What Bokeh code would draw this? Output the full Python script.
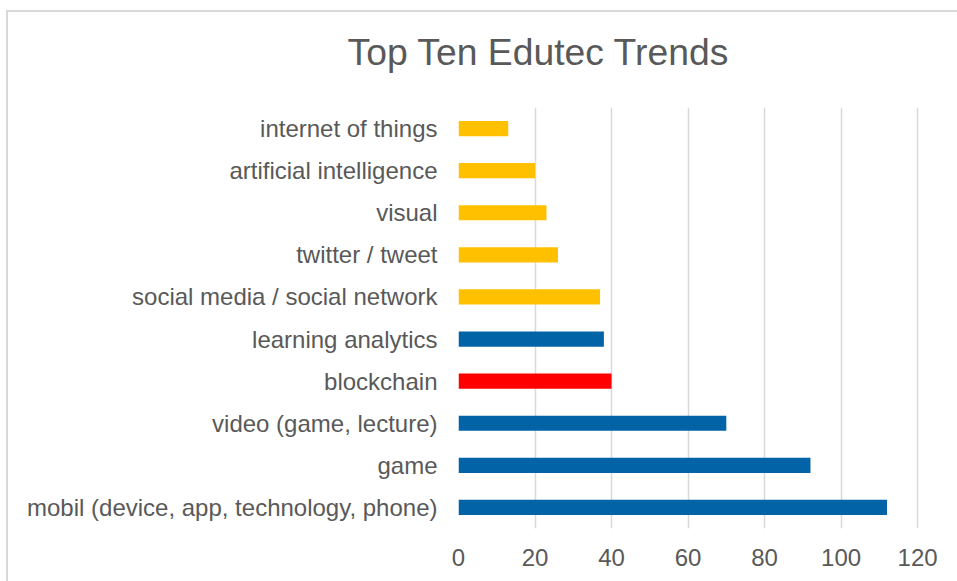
from bokeh.plotting import figure
from bokeh.models import FactorRange, ColumnDataSource, FixedTicker, Title
from bokeh.embed import file_html
from bokeh.resources import INLINE

categories = [
    "mobil (device, app, technology, phone)",
    "game",
    "video (game, lecture)",
    "blockchain",
    "learning analytics",
    "social media / social network",
    "twitter / tweet",
    "visual",
    "artificial intelligence",
    "internet of things",
]
values = [112, 92, 70, 40, 38, 37, 26, 23, 20, 13]
colors = ["#0263A7", "#0263A7", "#0263A7", "#FF0000", "#0263A7",
          "#FFC000", "#FFC000", "#FFC000", "#FFC000", "#FFC000"]
x_ticks = [0, 20, 40, 60, 80, 100, 120]
title_text = "Top Ten Edutec Trends"

src = ColumnDataSource(dict(cat=categories, val=values, color=colors))

p = figure(
    y_range=FactorRange(factors=categories, range_padding=0),
    x_range=(0, 120.5),
    width=949, height=569,
    frame_width=461, frame_height=421,
    min_border_left=450, min_border_top=95, min_border_right=38, min_border_bottom=53,
    output_backend="svg", toolbar_location=None,
    title=title_text,
)
p.margin = (10, 0, 0, 6)
p.styles = {"border-left": "2px solid #d9d9d9", "border-top": "2px solid #d9d9d9",
            "box-sizing": "content-box"}

p.hbar(y="cat", right="val", left=0, height=0.36, color="color", source=src,
       line_color=None)

p.outline_line_color = None
p.background_fill_color = "white"
p.border_fill_color = "white"

p.ygrid.grid_line_color = None
p.xgrid.grid_line_color = "#d9d9d9"
p.xgrid.grid_line_width = 1.5
p.xaxis.ticker = FixedTicker(ticks=x_ticks)

for ax in (p.xaxis[0], p.yaxis[0]):
    ax.axis_line_color = None
    ax.major_tick_line_color = None
    ax.minor_tick_line_color = None
    ax.major_label_text_font = "Liberation Sans"
    ax.major_label_text_color = "#595959"

p.yaxis.major_label_text_font_size = "24px"
p.xaxis.major_label_text_font_size = "24px"
p.yaxis.major_label_standoff = 15
p.xaxis.major_label_standoff = 14

# spacer between the frame and the title
spacer = Title(text=" ", text_font_size="1px", standoff=32)
p.add_layout(spacer, "above")

p.title.align = "left"
p.title.offset = -111
p.title.standoff = 0
p.title.text_font = "Liberation Sans"
p.title.text_font_size = "37.3px"
p.title.text_font_style = "normal"
p.title.text_color = "#595959"

open("out.html", "w").write(file_html(p, INLINE))
